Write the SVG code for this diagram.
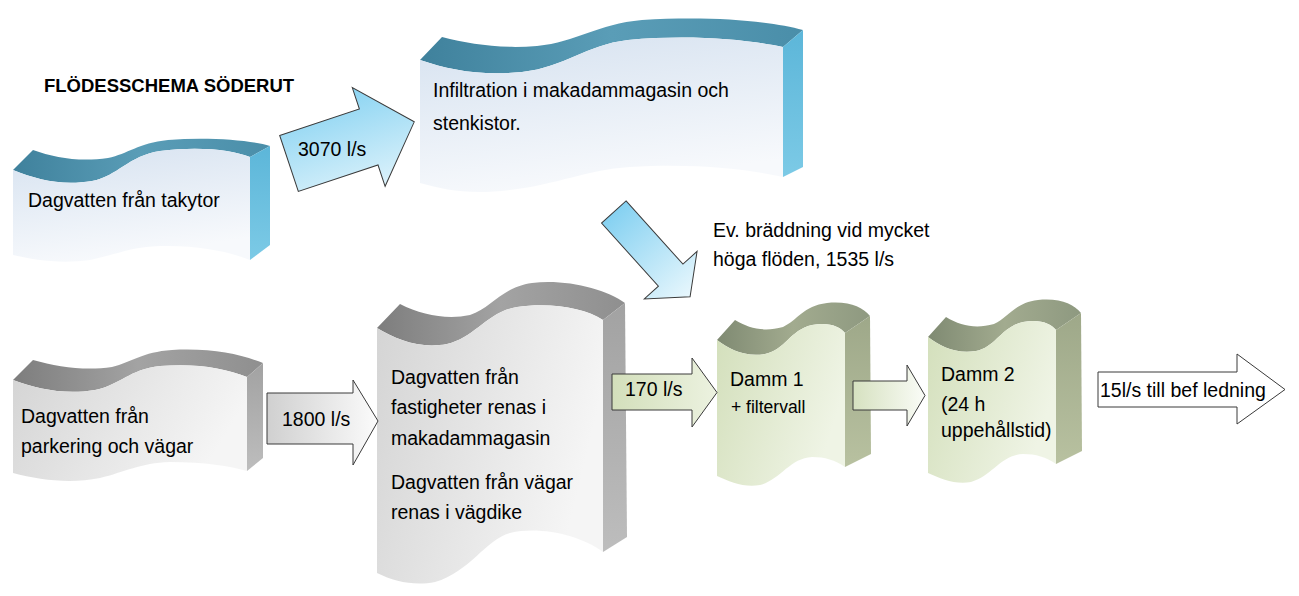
<svg xmlns="http://www.w3.org/2000/svg" width="1299" height="596" viewBox="0 0 1299 596">
<defs>
<linearGradient id="gBF" x1="0" y1="0" x2="0.3" y2="1"><stop offset="0" stop-color="#d6e2f0"/><stop offset="1" stop-color="#f7f9fc"/></linearGradient>
<linearGradient id="gBT" x1="0" y1="0" x2="1" y2="0"><stop offset="0" stop-color="#3f819c"/><stop offset="0.5" stop-color="#5a9db7"/><stop offset="1" stop-color="#4a8ea9"/></linearGradient>
<linearGradient id="gBS" x1="0" y1="0" x2="0" y2="1"><stop offset="0" stop-color="#5cb6d9"/><stop offset="1" stop-color="#7ccae6"/></linearGradient>
<linearGradient id="gGF" x1="0" y1="0" x2="1" y2="0.3"><stop offset="0" stop-color="#d4d4d4"/><stop offset="1" stop-color="#f5f5f5"/></linearGradient>
<linearGradient id="gGT" x1="0" y1="0" x2="1" y2="0"><stop offset="0" stop-color="#7d7d7d"/><stop offset="0.5" stop-color="#a3a3a3"/><stop offset="1" stop-color="#8f8f8f"/></linearGradient>
<linearGradient id="gGS" x1="0" y1="0" x2="0" y2="1"><stop offset="0" stop-color="#a2a2a2"/><stop offset="1" stop-color="#bdbdbd"/></linearGradient>
<linearGradient id="gNF" x1="0" y1="0" x2="1" y2="0.4"><stop offset="0" stop-color="#d3dfbb"/><stop offset="1" stop-color="#eff4e5"/></linearGradient>
<linearGradient id="gNT" x1="0" y1="0" x2="1" y2="0"><stop offset="0" stop-color="#7f8a72"/><stop offset="0.5" stop-color="#a2ab8f"/><stop offset="1" stop-color="#8e9980"/></linearGradient>
<linearGradient id="gNS" x1="0" y1="0" x2="0" y2="1"><stop offset="0" stop-color="#9ea889"/><stop offset="1" stop-color="#b8c1a0"/></linearGradient>
<linearGradient id="aB1" x1="0" y1="0" x2="0" y2="1"><stop offset="0" stop-color="#8bd4f2"/><stop offset="1" stop-color="#dcf2fb"/></linearGradient>
<linearGradient id="aB2" x1="0" y1="0" x2="1" y2="0"><stop offset="0" stop-color="#85d1f1"/><stop offset="1" stop-color="#e8f7fd"/></linearGradient>
<linearGradient id="aG" x1="0" y1="0" x2="1" y2="0"><stop offset="0" stop-color="#d0d0d0"/><stop offset="1" stop-color="#fbfbfb"/></linearGradient>
<linearGradient id="aN1" x1="0" y1="0" x2="1" y2="0"><stop offset="0" stop-color="#d3dfbb"/><stop offset="1" stop-color="#ecf2e0"/></linearGradient>
<linearGradient id="aN2" x1="0" y1="0" x2="1" y2="0"><stop offset="0" stop-color="#d6e1c0"/><stop offset="1" stop-color="#fafcf7"/></linearGradient>
</defs>
<style>
text{font-family:"Liberation Sans",Arial,sans-serif;font-size:19.5px;fill:#000}
.title{font-weight:bold;font-size:18.5px}
.small{font-size:17.5px}
.arrow{stroke:#3a3a3a;stroke-width:1;stroke-linejoin:miter}
.bF{fill:url(#gBF)}.bT{fill:url(#gBT)}.bS{fill:url(#gBS)}
.gF{fill:url(#gGF)}.gT{fill:url(#gGT)}.gS{fill:url(#gGS)}
.nF{fill:url(#gNF)}.nT{fill:url(#gNT)}.nS{fill:url(#gNS)}
</style>
<rect width="1299" height="596" fill="#ffffff"/>

<text class="title" x="44" y="92">FLÖDESSCHEMA SÖDERUT</text>

<g id="node-takytor">
<path class="bT" d="M33,150 C55,158 80,162 108,158 C128,154 138,143 168,140 C208,137 250,140 270,146 L250,157 C232,150 200,146 160,151 C128,156 118,176 92,181 C62,186 38,180 13,170 Z"/>
<path class="bS" d="M250,157 L270,146 L270,245 L250,260 Z"/>
<path class="bF" d="M13,170 C38,180 62,186 92,181 C118,176 128,156 160,151 C200,146 232,150 250,157 L250,260 C230,252 200,245 160,246 C130,247 115,255 90,260 C60,264 35,260 13,255 Z"/>
<text x="28" y="207">Dagvatten från takytor</text>
</g>

<g id="node-infiltration">
<path class="bT" d="M442,37 C470,44 500,49 537,46 C577,42 597,24 642,20 C712,16 770,21 803,30 L783,47 C750,40 692,34 628,40 C585,45 566,67 522,72 C480,76 450,70 420,60 Z"/>
<path class="bS" d="M783,47 L803,30 L803,167 L783,177 Z"/>
<path class="bF" d="M420,60 C450,70 480,76 522,72 C566,67 585,45 628,40 C692,34 750,40 783,47 L783,177 C750,170 700,163 630,167 C585,170 560,184 510,190 C470,195 445,190 420,183 Z"/>
<text x="433" y="97">Infiltration i makadammagasin och</text>
<text x="433" y="130">stenkistor.</text>
</g>

<g id="node-parkering">
<path class="gT" d="M33,360 C58,367 85,371 112,367 C132,362 142,352 172,350 C212,348 240,354 263,363 L247,377 C225,368 195,363 160,366 C130,369 120,385 95,390 C64,395 38,389 13,380 Z"/>
<path class="gS" d="M247,377 L263,363 L263,458 L247,471 Z"/>
<path class="gF" d="M13,380 C38,389 64,395 95,390 C120,385 130,369 160,366 C195,363 225,368 247,377 L247,471 C230,466 205,462 170,462 C140,463 125,472 100,478 C70,484 40,480 13,473 Z"/>
<text x="21" y="423">Dagvatten från</text>
<text x="21" y="453">parkering och vägar</text>
</g>

<g id="node-fastigheter">
<path class="gT" d="M400,304 C422,315 447,320 470,315 C492,308 502,287 532,283 C567,279 605,289 625,303 L603,320 C585,308 550,302 517,307 C487,312 475,338 447,344 C420,349 397,340 377,328 Z"/>
<path class="gS" d="M603,320 L625,303 L627,537 L603,552 Z"/>
<path class="gF" d="M377,328 C397,340 420,349 447,344 C475,338 487,312 517,307 C550,302 585,308 603,320 L603,552 C580,535 540,526 510,533 C485,540 470,572 435,582 C415,586 395,582 377,573 Z"/>
<text x="391" y="384">Dagvatten från</text>
<text x="391" y="414">fastigheter renas i</text>
<text x="391" y="445">makadammagasin</text>
<text x="391" y="489">Dagvatten från vägar</text>
<text x="391" y="519">renas i vägdike</text>
</g>

<g id="node-damm1">
<path class="nT" d="M735,320 C750,329 765,332 783,327 C798,320 803,306 827,303 C850,301 862,307 870,316 L845,333 C840,327 830,322 812,325 C790,330 785,350 765,354 C745,357 730,350 717,340 Z"/>
<path class="nS" d="M845,333 L870,316 L871,454 L845,467 Z"/>
<path class="nF" d="M717,340 C730,350 745,357 765,354 C785,350 790,330 812,325 C830,322 840,327 845,333 L845,467 C835,460 825,457 812,457 C790,458 780,480 760,485 C745,488 730,482 717,476 Z"/>
<text x="730" y="386">Damm 1</text>
<text class="small" x="731" y="413">+ filtervall</text>
</g>

<g id="node-damm2">
<g transform="translate(211,-3)">
<path class="nT" d="M735,320 C750,329 765,332 783,327 C798,320 803,306 827,303 C850,301 862,307 870,316 L845,333 C840,327 830,322 812,325 C790,330 785,350 765,354 C745,357 730,350 717,340 Z"/>
<path class="nS" d="M845,333 L870,316 L871,454 L845,467 Z"/>
<path class="nF" d="M717,340 C730,350 745,357 765,354 C785,350 790,330 812,325 C830,322 840,327 845,333 L845,467 C835,460 825,457 812,457 C790,458 780,480 760,485 C745,488 730,482 717,476 Z"/>
</g>
<text x="941" y="381">Damm 2</text>
<text x="941" y="411">(24 h</text>
<text x="941" y="437">uppehållstid)</text>
</g>

<g id="connectors">
<g id="arrow-3070">
<polygon class="arrow" fill="url(#aB1)" transform="translate(289,163.5) rotate(-18.4)" points="0,-29.5 84,-29.5 84,-52 132,0 84,52 84,29.5 0,29.5"/>
<text x="298" y="156">3070 l/s</text>
</g>
<g id="arrow-overflow">
<polygon class="arrow" fill="url(#aB2)" transform="translate(613.8,212) rotate(48)" points="0,-16.5 85,-16.5 85,-35.5 114,0 85,35.5 85,16.5 0,16.5"/>
</g>
<g id="arrow-1800">
<polygon class="arrow" fill="url(#aG)" points="267,393 353,393 353,380 378,421 353,465 353,444 267,444"/>
<text x="282" y="426">1800 l/s</text>
</g>
<g id="arrow-170">
<polygon class="arrow" fill="url(#aN1)" points="612,374 692,374 692,358 717,392.5 692,427 692,410 612,410"/>
<text x="625" y="396">170 l/s</text>
</g>
<g id="arrow-damm">
<polygon class="arrow" fill="url(#aN2)" points="853,381 907,381 907,365 925,395.5 907,426 907,410 853,410"/>
</g>
<g id="arrow-15">
<polygon class="arrow" fill="#ffffff" stroke="#000" points="1098,372 1237,372 1237,354 1285,389.5 1237,424 1237,407 1098,407"/>
<text x="1100" y="397">15l/s till bef ledning</text>
</g>
</g>

<g id="label-overflow">
<text x="713" y="237">Ev. bräddning vid mycket</text>
<text x="713" y="266">höga flöden, 1535 l/s</text>
</g>
</svg>
